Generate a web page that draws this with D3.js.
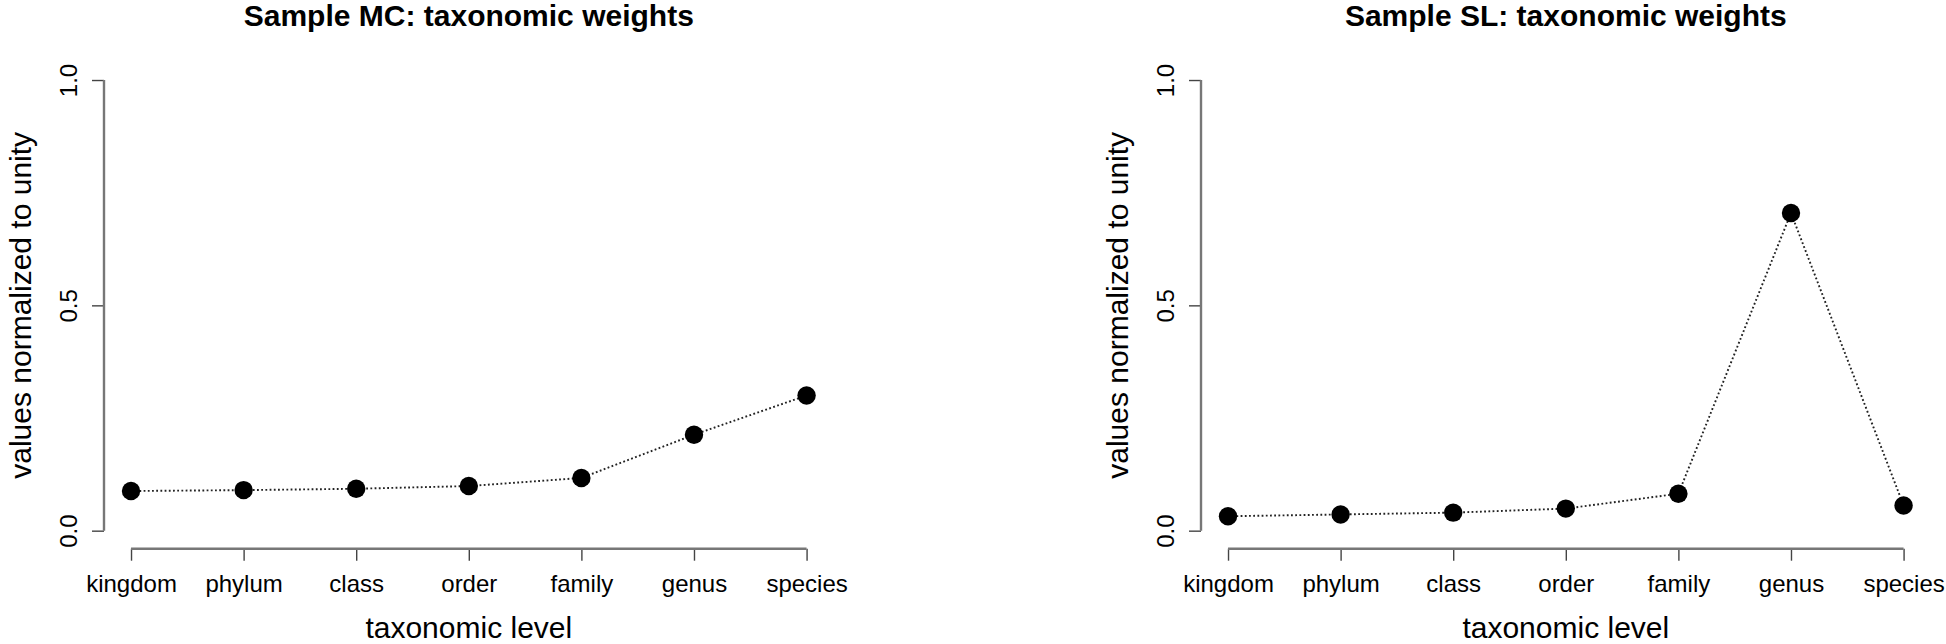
<!DOCTYPE html>
<html>
<head>
<meta charset="utf-8">
<script src="https://cdn.jsdelivr.net/npm/d3@7"></script>
<style>
  html, body { margin: 0; padding: 0; background: #fff; }
  svg { display: block; }
  text { font-family: "Liberation Sans", Arial, Helvetica, sans-serif; fill: #000; }
</style>
</head>
<body>
<svg id="chart" width="1946" height="644"></svg>
<script>
// ---- data ----
const categories = ["kingdom", "phylum", "class", "order", "family", "genus", "species"];
const valuesMC = [0.088, 0.090, 0.093, 0.099, 0.117, 0.213, 0.300];
const valuesSL = [0.032, 0.036, 0.040, 0.049, 0.082, 0.705, 0.056];
const yTicks = [0, 0.5, 1];
const titles = ["Sample MC: taxonomic weights", "Sample SL: taxonomic weights"];
const xLabel = "taxonomic level";
const yLabel = "values normalized to unity";

const svg = d3.select("#chart");

function drawPanel(left, title, values) {
  const plotW = 729.6;
  const top = 62, bottom = 548.7;
  const x = d3.scaleLinear().domain([1 - 0.24, categories.length + 0.24]).range([left, left + plotW]);
  const y = d3.scaleLinear().domain([-0.04, 1.04]).range([bottom, top]);
  const g = svg.append("g");

  // title
  g.append("text")
    .attr("x", (x(1) + x(categories.length)) / 2)
    .attr("y", 26)
    .attr("text-anchor", "middle")
    .attr("font-size", 30)
    .attr("font-weight", "bold")
    .text(title);

  // y axis
  const yAxis = d3.axisLeft(y).tickValues(yTicks).tickSize(12).tickSizeOuter(0).tickFormat(d3.format(".1f"));
  const ya = g.append("g").attr("transform", `translate(${left},0)`).call(yAxis);
  ya.select(".domain").remove();
  ya.selectAll(".tick line").attr("stroke", "#444").attr("stroke-width", 1.4);
  ya.selectAll(".tick text")
    .attr("x", null).attr("dy", null)
    .attr("font-size", 24)
    .attr("fill", "#000")
    .attr("text-anchor", "middle")
    .attr("transform", "translate(-27,0) rotate(-90)");
  ya.append("line")
    .attr("x1", 0).attr("x2", 0)
    .attr("y1", y(0)).attr("y2", y(1))
    .attr("stroke", "#777").attr("stroke-width", 2.4);

  // x axis
  const xAxis = d3.axisBottom(x).tickValues(d3.range(1, categories.length + 1)).tickSize(12).tickSizeOuter(0)
    .tickFormat(i => categories[i - 1]);
  const xa = g.append("g").attr("transform", `translate(0,${bottom})`).call(xAxis);
  xa.select(".domain").remove();
  xa.selectAll(".tick line").attr("stroke", "#444").attr("stroke-width", 1.4);
  xa.selectAll(".tick text")
    .attr("y", 43).attr("dy", null)
    .attr("font-size", 24)
    .attr("fill", "#000");
  xa.append("line")
    .attr("x1", x(1)).attr("x2", x(categories.length))
    .attr("y1", 0).attr("y2", 0)
    .attr("stroke", "#777").attr("stroke-width", 2.4);

  // axis labels
  g.append("text")
    .attr("x", (x(1) + x(categories.length)) / 2)
    .attr("y", 638)
    .attr("text-anchor", "middle")
    .attr("font-size", 30)
    .text(xLabel);
  g.append("text")
    .attr("transform", `translate(${left - 73},${y(0.5)}) rotate(-90)`)
    .attr("text-anchor", "middle")
    .attr("font-size", 30)
    .text(yLabel);

  // line
  const line = d3.line().x((d, i) => x(i + 1)).y(d => y(d));
  g.append("path")
    .datum(values)
    .attr("d", line)
    .attr("fill", "none")
    .attr("stroke", "#222")
    .attr("stroke-width", 1.9)
    .attr("stroke-dasharray", "1.8,2.4");

  // points
  g.selectAll("circle")
    .data(values)
    .join("circle")
    .attr("cx", (d, i) => x(i + 1))
    .attr("cy", d => y(d))
    .attr("r", 9.2)
    .attr("fill", "#000");
}

drawPanel(104, titles[0], valuesMC);
drawPanel(1201, titles[1], valuesSL);
</script>
</body>
</html>
